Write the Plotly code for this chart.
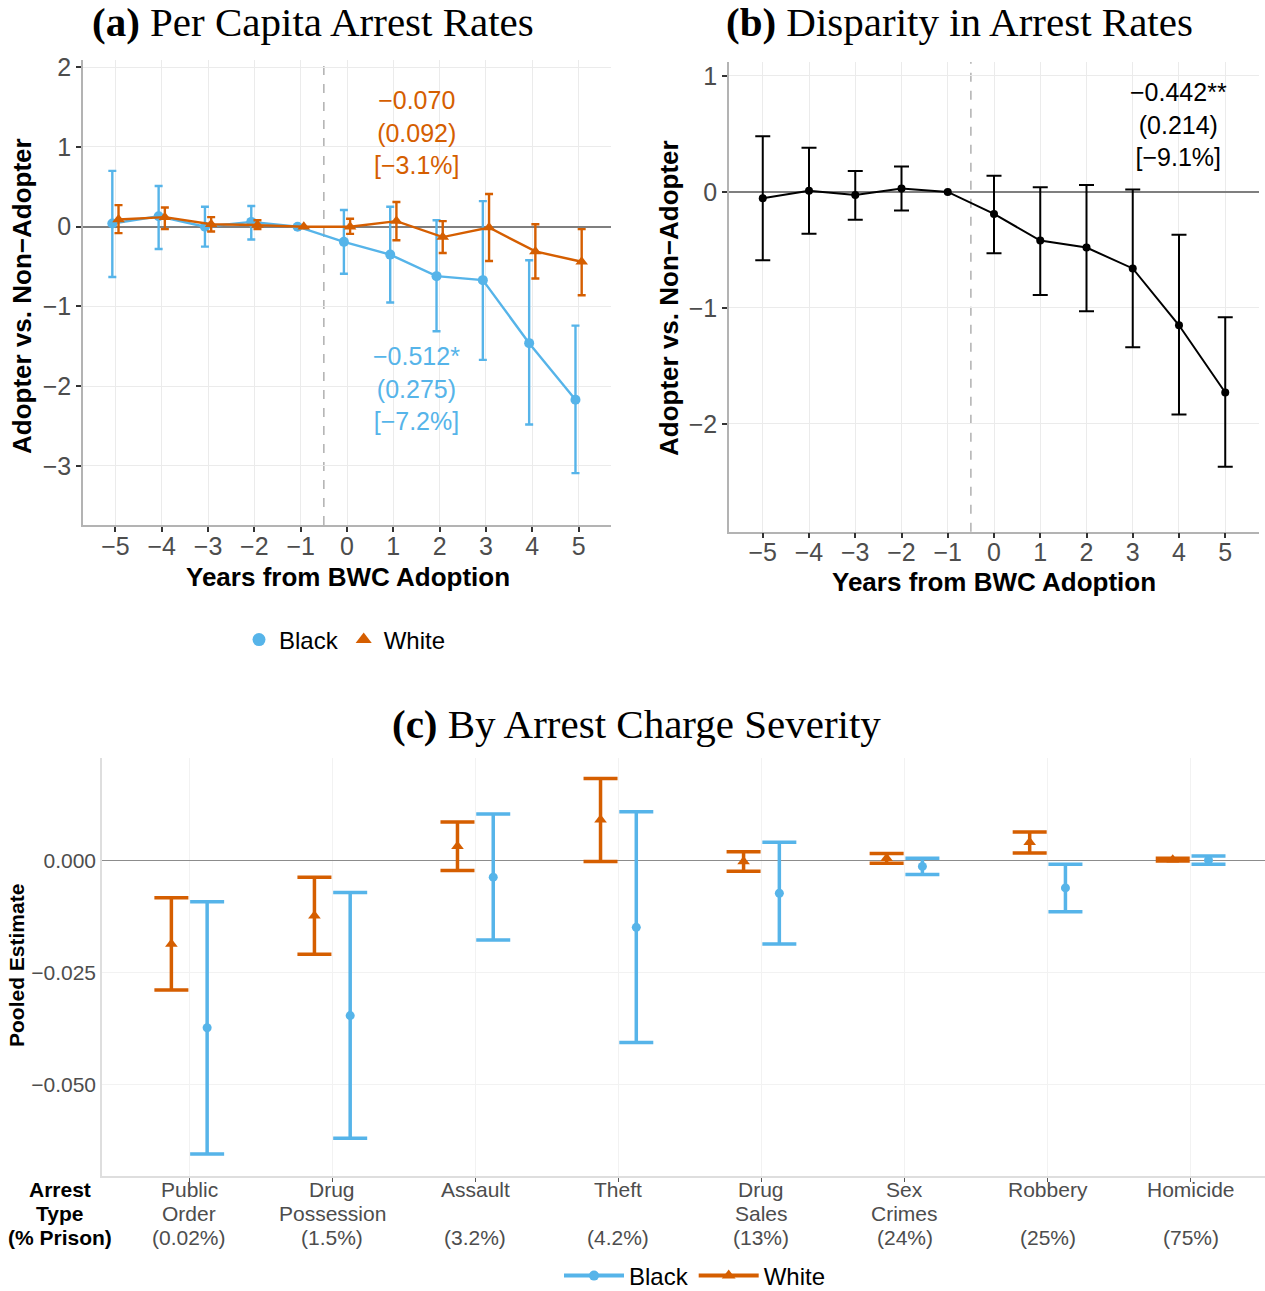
import numpy as np
import plotly.graph_objects as go

W, H = 1265, 1291
nan = np.nan

# ---- (a) per capita arrest rates, event-study estimates ----
years = [-5, -4, -3, -2, -1, 0, 1, 2, 3, 4, 5]
black_est = [0.04, 0.13, 0.00, 0.06, 0.00, -0.19, -0.35, -0.62, -0.67, -1.46, -2.17]
black_lo = [-0.63, -0.28, -0.25, -0.16, nan, -0.59, -0.95, -1.31, -1.67, -2.48, -3.09]
black_hi = [0.70, 0.51, 0.25, 0.26, nan, 0.21, 0.25, 0.08, 0.32, -0.42, -1.24]
white_est = [0.09, 0.12, 0.03, 0.02, 0.00, 0.00, 0.07, -0.13, -0.01, -0.31, -0.44]
white_lo = [-0.08, -0.03, -0.06, -0.03, nan, -0.09, -0.17, -0.33, -0.43, -0.65, -0.86]
white_hi = [0.27, 0.24, 0.12, 0.08, nan, 0.10, 0.31, 0.07, 0.41, 0.03, -0.03]
white_pooled = ["−0.070", "(0.092)", "[−3.1%]"]
black_pooled = ["−0.512*", "(0.275)", "[−7.2%]"]

# ---- (b) black-white disparity ----
gap_est = [-0.055, 0.01, -0.026, 0.03, 0.00, -0.19, -0.42, -0.48, -0.66, -1.15, -1.73]
gap_lo = [-0.59, -0.36, -0.24, -0.16, nan, -0.53, -0.89, -1.03, -1.34, -1.92, -2.37]
gap_hi = [0.48, 0.38, 0.18, 0.22, nan, 0.14, 0.04, 0.06, 0.02, -0.37, -1.08]
gap_pooled = ["−0.442**", "(0.214)", "[−9.1%]"]

# ---- (c) pooled estimates by charge severity ----
charge_line1 = ["Public", "Drug", "Assault", "Theft", "Drug", "Sex", "Robbery", "Homicide"]
charge_line2 = ["Order", "Possession", "", "", "Sales", "Crimes", "", ""]
prison_share = ["(0.02%)", "(1.5%)", "(3.2%)", "(4.2%)", "(13%)", "(24%)", "(25%)", "(75%)"]
row_header = ["Arrest", "Type", "(% Prison)"]
white_c_est = [-0.0187, -0.0124, 0.0031, 0.0090, -0.0003, 0.0004, 0.0040, 0.0001]
white_c_lo = [-0.0290, -0.0210, -0.0023, -0.0003, -0.0025, -0.0007, 0.0016, -0.0002]
white_c_hi = [-0.0084, -0.0038, 0.0085, 0.0182, 0.0019, 0.0015, 0.0063, 0.0004]
black_c_est = [-0.0374, -0.0347, -0.0038, -0.0150, -0.0074, -0.0014, -0.0062, 0.0000]
black_c_lo = [-0.0656, -0.0621, -0.0178, -0.0407, -0.0187, -0.0032, -0.0115, -0.0009]
black_c_hi = [-0.0093, -0.0072, 0.0103, 0.0108, 0.0040, 0.0004, -0.0009, 0.0009]

# ---- styling ----
BLUE = "#56B4E9"
ORANGE = "#D55E00"
SANS = "Liberation Sans, Arial, sans-serif"
SERIF = "Liberation Serif, Times New Roman, serif"
TICK_GREY = "#4d4d4d"
GRID = "#ebebeb"


def px_x(p):
    return p / W


def px_y(p):
    return 1 - p / H


def err(est, lo, hi):
    est, lo, hi = map(np.asarray, (est, lo, hi))
    return dict(type="data", symmetric=False, array=hi - est, arrayminus=est - lo)


fig = go.Figure()

# panel (a): dodged positions
yr = np.asarray(years, dtype=float)
dodge_a = 0.067
fig.add_trace(go.Scatter(
    x=yr - dodge_a, y=black_est, mode="lines+markers", xaxis="x", yaxis="y",
    line=dict(color=BLUE, width=2.4), marker=dict(color=BLUE, size=10, symbol="circle"),
    error_y=dict(**err(black_est, black_lo, black_hi), color=BLUE, thickness=2.4, width=4),
    showlegend=False,
))
fig.add_trace(go.Scatter(
    x=yr + dodge_a, y=white_est, mode="lines+markers", xaxis="x", yaxis="y",
    line=dict(color=ORANGE, width=2.4), marker=dict(color=ORANGE, size=11, symbol="triangle-up"),
    error_y=dict(**err(white_est, white_lo, white_hi), color=ORANGE, thickness=2.4, width=4),
    showlegend=False,
))
# legend keys for panel (a)
fig.add_trace(go.Scatter(x=[None], y=[None], mode="markers", name="Black", legend="legend",
                         marker=dict(color=BLUE, size=13, symbol="circle"), xaxis="x", yaxis="y"))
fig.add_trace(go.Scatter(x=[None], y=[None], mode="markers", name="White", legend="legend",
                         marker=dict(color=ORANGE, size=14, symbol="triangle-up"), xaxis="x", yaxis="y"))

# panel (b)
fig.add_trace(go.Scatter(
    x=years, y=gap_est, mode="lines+markers", xaxis="x2", yaxis="y2",
    line=dict(color="black", width=2), marker=dict(color="black", size=8),
    error_y=dict(**err(gap_est, gap_lo, gap_hi), color="black", thickness=2, width=7.5),
    showlegend=False,
))

# panel (c)
idx = np.arange(len(charge_line1), dtype=float)
dodge_c = 0.125
fig.add_trace(go.Scatter(
    x=idx - dodge_c, y=white_c_est, mode="markers", xaxis="x3", yaxis="y3",
    marker=dict(color=ORANGE, size=11, symbol="triangle-up"),
    error_y=dict(**err(white_c_est, white_c_lo, white_c_hi), color=ORANGE, thickness=3.5, width=17),
    showlegend=False,
))
fig.add_trace(go.Scatter(
    x=idx + dodge_c, y=black_c_est, mode="markers", xaxis="x3", yaxis="y3",
    marker=dict(color=BLUE, size=9, symbol="circle"),
    error_y=dict(**err(black_c_est, black_c_lo, black_c_hi), color=BLUE, thickness=3.5, width=17),
    showlegend=False,
))
fig.add_trace(go.Scatter(x=[None], y=[None], mode="lines+markers", name="Black", legend="legend2",
                         line=dict(color=BLUE, width=4), marker=dict(color=BLUE, size=10),
                         xaxis="x3", yaxis="y3"))
fig.add_trace(go.Scatter(x=[None], y=[None], mode="lines+markers", name="White", legend="legend2",
                         line=dict(color=ORANGE, width=4),
                         marker=dict(color=ORANGE, size=12, symbol="triangle-up"),
                         xaxis="x3", yaxis="y3"))

axis_common = dict(
    showline=True, linecolor="#b3b3b3", linewidth=1.5, mirror=False,
    ticks="outside", ticklen=5, tickwidth=1.5, tickcolor="#333333",
    showgrid=True, gridcolor=GRID, gridwidth=1,
    tickfont=dict(family=SANS, size=25, color=TICK_GREY),
)

fig.update_layout(
    width=W, height=H,
    margin=dict(l=0, r=0, t=0, b=0, autoexpand=False),
    paper_bgcolor="white", plot_bgcolor="white",
    font=dict(family=SANS, color="black"),
    xaxis=dict(domain=[px_x(83), px_x(611)], range=[-5.70, 5.70], anchor="y",
               tickvals=years, zeroline=False, ticklabelstandoff=-7, **axis_common),
    yaxis=dict(domain=[px_y(525), px_y(60)], range=[-3.74, 2.09], anchor="x",
               tickvals=[-3, -2, -1, 0, 1, 2], zeroline=True, zerolinecolor="#7f7f7f",
               zerolinewidth=2, **axis_common),
    xaxis2=dict(domain=[px_x(729), px_x(1259)], range=[-5.73, 5.73], anchor="y2",
                tickvals=years, zeroline=False, ticklabelstandoff=-7, **axis_common),
    yaxis2=dict(domain=[px_y(531.7), px_y(62)], range=[-2.93, 1.12], anchor="x2",
                tickvals=[-2, -1, 0, 1], zeroline=True, zerolinecolor="#7f7f7f",
                zerolinewidth=2, **axis_common),
    xaxis3=dict(domain=[px_x(102), 1.0], range=[-0.61, 7.52], anchor="y3",
                tickvals=idx, showticklabels=False, zeroline=False,
                showline=True, linecolor="#dedede", linewidth=1.5,
                ticks="outside", ticklen=4, tickwidth=1, tickcolor="#555555",
                showgrid=True, gridcolor="#f2f2f2", gridwidth=1),
    yaxis3=dict(domain=[px_y(1176), px_y(758)], range=[-0.0705, 0.0228], anchor="x3",
                tickvals=[-0.05, -0.025, 0.0], tickformat=".3f",
                zeroline=True, zerolinecolor="#8c8c8c", zerolinewidth=1,
                showline=True, linecolor="#dedede", linewidth=1.5, ticks="",
                showgrid=True, gridcolor="#f2f2f2", gridwidth=1,
                tickfont=dict(family=SANS, size=21, color=TICK_GREY)),
    legend=dict(orientation="h", x=px_x(345), xanchor="center", y=px_y(640), yanchor="middle",
                font=dict(family=SANS, size=24, color="black"), bgcolor="rgba(0,0,0,0)"),
    legend2=dict(orientation="h", x=px_x(695), xanchor="center", y=px_y(1276), yanchor="middle",
                 font=dict(family=SANS, size=24, color="black"), bgcolor="rgba(0,0,0,0)",
                 itemwidth=60),
)

# adoption year marker
for xr, yr_ref in (("x", "y domain"), ("x2", "y2 domain")):
    fig.add_shape(type="line", xref=xr, yref=yr_ref, x0=-0.5, x1=-0.5, y0=0, y1=1,
                  line=dict(color="#b0b0b0", width=1.5, dash="dash"), layer="below")

ann = []
# panel titles
for x, y, txt in ((313, 22, "<b>(a)</b> Per Capita Arrest Rates"),
                  (960, 22, "<b>(b)</b> Disparity in Arrest Rates"),
                  (636, 724, "<b>(c)</b> By Arrest Charge Severity")):
    ann.append(dict(x=px_x(x), y=px_y(y), xref="paper", yref="paper", text=txt, showarrow=False,
                    xanchor="center", yanchor="middle", font=dict(family=SERIF, size=41, color="black")))
# axis titles
for x, y, txt, ang, size in ((22, 296, "<b>Adopter vs. Non−Adopter</b>", -90, 26),
                             (348, 577, "<b>Years from BWC Adoption</b>", 0, 26),
                             (669, 298, "<b>Adopter vs. Non−Adopter</b>", -90, 26),
                             (994, 582, "<b>Years from BWC Adoption</b>", 0, 26),
                             (16, 966, "<b>Pooled Estimate</b>", -90, 21)):
    ann.append(dict(x=px_x(x), y=px_y(y), xref="paper", yref="paper", text=txt, showarrow=False,
                    textangle=ang, xanchor="center", yanchor="middle",
                    font=dict(family=SANS, size=size, color="black")))
# category labels for panel (c), one line at a time
line_y = [1189, 1213, 1237]
for i in range(len(charge_line1)):
    for ly, txt in zip(line_y, (charge_line1[i], charge_line2[i], prison_share[i])):
        if txt:
            ann.append(dict(x=idx[i], y=px_y(ly), xref="x3", yref="paper", text=txt,
                            showarrow=False, xanchor="center", yanchor="middle",
                            font=dict(family=SANS, size=21, color=TICK_GREY)))
for ly, txt in zip(line_y, row_header):
    ann.append(dict(x=px_x(60), y=px_y(ly), xref="paper", yref="paper", text=f"<b>{txt}</b>",
                    showarrow=False, xanchor="center", yanchor="middle",
                    font=dict(family=SANS, size=21, color="black")))
# pooled post-period estimates
for xr, yref, x, y, lines, col in (("x", "y", 1.5, 1.18, white_pooled, ORANGE),
                                   ("x", "y", 1.5, -2.03, black_pooled, BLUE),
                                   ("x2", "y2", 4.0, 0.585, gap_pooled, "black")):
    ann.append(dict(x=x, y=y, xref=xr, yref=yref, text="<br>".join(lines), showarrow=False,
                    xanchor="center", yanchor="middle", align="center",
                    font=dict(family=SANS, size=25, color=col)))
fig.update_layout(annotations=ann)

fig.write_html("out.html")
